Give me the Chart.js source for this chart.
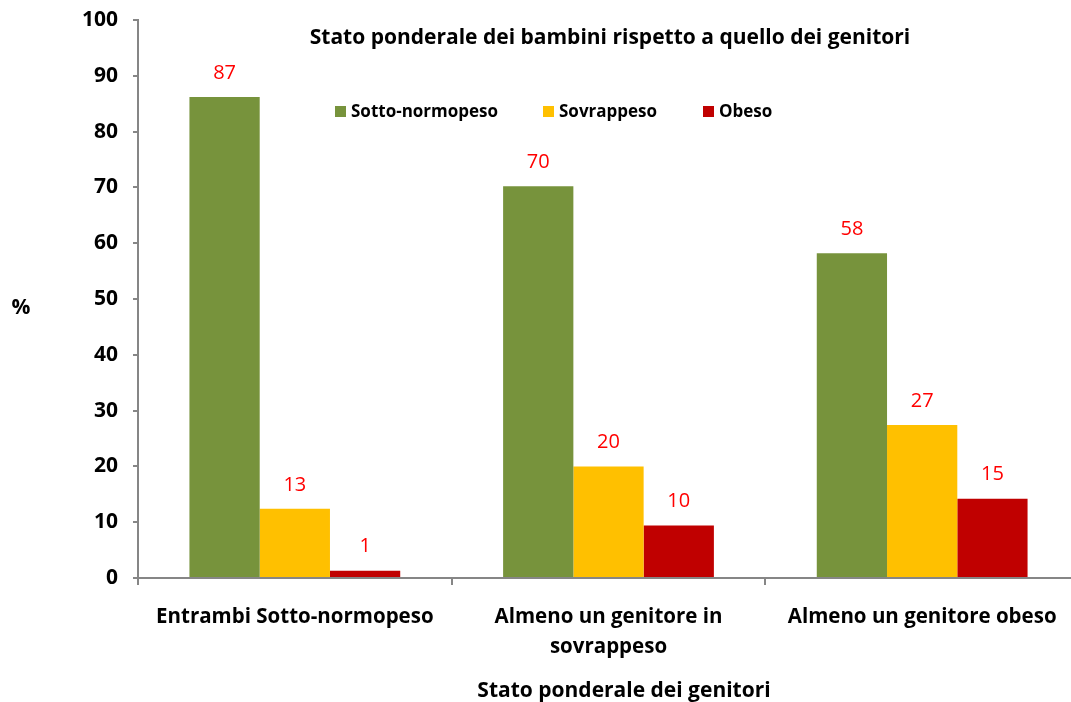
<!DOCTYPE html>
<html>
<head>
<meta charset="utf-8">
<script src="https://cdn.jsdelivr.net/npm/chart.js@4"></script>
<style>
html, body { margin: 0; padding: 0; overflow: hidden; background: #fff; }
#myChart { display: block; }
</style>
</head>
<body>
<canvas id="myChart" width="1080" height="702"></canvas>
<script>
// categorie sull'asse x (array = etichetta su più righe)
const categories = [
  ['Entrambi Sotto-normopeso'],
  ['Almeno un genitore in', 'sovrappeso'],
  ['Almeno un genitore obeso']
];
const seriesNames = ['Sotto-normopeso', 'Sovrappeso', 'Obeso'];

const sottoNormopeso = [86.2, 70.2, 58.2];
const sovrappeso = [12.4, 20.0, 27.4];
const obeso = [1.3, 9.4, 14.2];

// etichette dei valori come scritte nel grafico
const sottoLabels = ['87', '70', '58'];
const sovraLabels = ['13', '20', '27'];
const obesoLabels = ['1', '10', '15'];

const yTicks = [0, 10, 20, 30, 40, 50, 60, 70, 80, 90, 100];

const chartTitle = 'Stato ponderale dei bambini rispetto a quello dei genitori';
const xTitle = 'Stato ponderale dei genitori';
const yTitle = '%';

const FONT = '"Open Sans"';

const data = {
  labels: categories,
  datasets: [
    { label: seriesNames[0], data: sottoNormopeso, backgroundColor: '#77933C', valueLabels: sottoLabels },
    { label: seriesNames[1], data: sovrappeso, backgroundColor: '#FFC000', valueLabels: sovraLabels },
    { label: seriesNames[2], data: obeso, backgroundColor: '#C00000', valueLabels: obesoLabels }
  ]
};

// etichette rosse sopra le barre
const valueLabelPlugin = {
  id: 'valueLabels',
  afterDatasetsDraw(chart) {
    const ctx = chart.ctx;
    ctx.save();
    ctx.font = '20px ' + FONT;
    ctx.fillStyle = '#FF0000';
    ctx.textAlign = 'center';
    ctx.textBaseline = 'middle';
    chart.data.datasets.forEach((ds, i) => {
      chart.getDatasetMeta(i).data.forEach((bar, j) => {
        ctx.fillText(ds.valueLabels[j], bar.x, bar.y - 24);
      });
    });
    ctx.restore();
  }
};

// titolo, legenda e titoli degli assi dentro l'area
const textPlugin = {
  id: 'texts',
  afterDraw(chart) {
    const ctx = chart.ctx;
    ctx.save();
    ctx.fillStyle = '#000';
    ctx.textBaseline = 'middle';
    ctx.textAlign = 'center';
    ctx.font = 'bold 21px ' + FONT;
    ctx.fillText(chartTitle, 610, 38);
    ctx.fillText(yTitle, 21, 308);
    ctx.fillText(xTitle, 624, 691);

    const legendX = [335, 543, 703];
    ctx.textAlign = 'left';
    ctx.font = 'bold 17px ' + FONT;
    chart.data.datasets.forEach((ds, i) => {
      ctx.fillStyle = ds.backgroundColor;
      ctx.fillRect(legendX[i], 106, 11, 11);
      ctx.fillStyle = '#000';
      ctx.fillText(ds.label, legendX[i] + 16, 112);
    });
    ctx.restore();
  }
};

const config = {
  type: 'bar',
  data: data,
  options: {
    responsive: false,
    animation: false,
    layout: { padding: { top: 20, right: 1, left: 0, bottom: 0 } },
    datasets: { bar: { categoryPercentage: 0.672, barPercentage: 1.0 } },
    plugins: {
      legend: { display: false },
      title: { display: false },
      tooltip: { enabled: false }
    },
    scales: {
      y: {
        min: 0,
        max: 100,
        afterBuildTicks: s => { s.ticks = yTicks.map(v => ({ value: v })); },
        afterFit: s => { s.width = 138; s.paddingTop = 0; s.paddingBottom = 0; },
        ticks: { font: { family: FONT, size: 21, weight: 'bold' }, color: '#000', padding: 15 },
        grid: { drawOnChartArea: false, drawTicks: true, tickLength: 5, color: '#868686', lineWidth: 2 },
        border: { color: '#868686', width: 2 }
      },
      x: {
        afterFit: s => { s.height = 124; s.paddingLeft = 0; s.paddingRight = 0; },
        ticks: {
          font: { family: FONT, size: 20.5, weight: 'bold', lineHeight: 1.48 },
          color: '#000', padding: 17, maxRotation: 0, autoSkip: false
        },
        grid: { drawOnChartArea: false, offset: true, drawTicks: true, tickLength: 7, color: '#868686', lineWidth: 2 },
        border: { color: '#868686', width: 2 }
      }
    }
  },
  plugins: [valueLabelPlugin, textPlugin]
};

const myChart = new Chart(document.getElementById('myChart'), config);
</script>
</body>
</html>
